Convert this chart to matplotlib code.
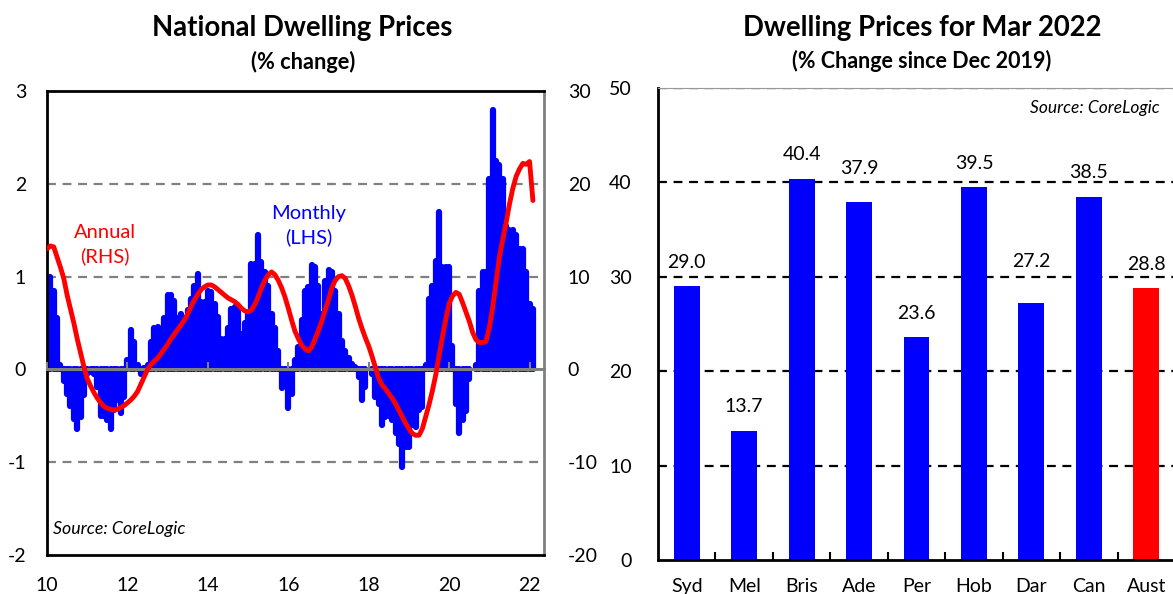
import numpy as np
import matplotlib
matplotlib.use("Agg")
import matplotlib.pyplot as plt
from matplotlib.ticker import FuncFormatter

plt.rcParams['font.family'] = ['Lato', 'DejaVu Sans']
plt.rcParams['axes.unicode_minus'] = False

# monthly % change in national dwelling prices, Jan 2010 onwards (LHS)
monthly = [
    1.0, 1.0, 0.85, 0.55, 0.05, -0.12, -0.26, -0.39, -0.53, -0.64, -0.51, -0.28,
    -0.05, -0.03, -0.05, -0.19, -0.5, -0.5, -0.55, -0.64, -0.44, -0.33, -0.47, -0.3,
    0.1, 0.42, 0.29, 0.05, -0.05, 0.02, 0.05, 0.3, 0.45, 0.46, 0.3, 0.55,
    0.8, 0.8, 0.74, 0.55, 0.6, 0.55, 0.64, 0.76, 0.9, 1.03, 0.73, 0.73,
    0.85, 0.83, 0.7, 0.56, 0.33, 0.33, 0.45, 0.65, 0.67, 0.65, 0.38, 0.5,
    0.6, 1.14, 1.14, 1.45, 1.16, 1.05, 0.9, 0.6, 0.45, 0.2, -0.2, -0.15,
    -0.42, -0.26, 0.1, 0.24, 0.53, 0.85, 0.89, 1.12, 1.1, 0.9, 0.6, 0.95,
    1.07, 1.05, 0.85, 0.6, 0.31, 0.2, 0.12, 0.06, 0.03, -0.08, -0.33, -0.19,
    0.0, -0.05, -0.3, -0.37, -0.6, -0.51, -0.5, -0.55, -0.69, -0.8, -1.05, -0.84,
    -0.84, -0.6, -0.62, -0.44, -0.4, 0.05, 0.76, 0.9, 1.17, 1.7, 1.1, 1.1,
    1.1, 0.25, -0.37, -0.69, -0.55, -0.45, -0.1, 0.0, 0.05, 0.85, 1.05, 1.05,
    2.05, 2.8, 2.25, 2.2, 2.05, 1.55, 1.5, 1.5, 1.45, 1.3, 1.3, 1.05,
    0.7, 0.65,
]

# annual % change (RHS)
annual = [
    13.0, 13.3, 13.2, 12.1, 11.0, 9.8, 8.0, 6.5, 5.0, 3.3, 1.8, 0.3,
    -1.0, -1.8, -2.5, -3.1, -3.6, -4.0, -4.2, -4.3, -4.4, -4.3, -4.1, -3.9,
    -3.6, -3.3, -2.9, -2.4, -1.6, -0.8, 0.0, 0.5, 0.9, 1.2, 1.7, 2.2,
    2.7, 3.3, 3.8, 4.3, 4.8, 5.3, 6.0, 6.8, 7.5, 8.1, 8.6, 8.9,
    9.1, 9.1, 8.9, 8.6, 8.3, 8.0, 7.7, 7.5, 7.3, 7.0, 6.6, 6.3,
    6.2, 6.4, 7.0, 7.8, 8.8, 9.6, 10.2, 10.5, 10.2, 9.6, 8.8, 7.8,
    6.6, 5.3, 4.1, 3.3, 2.6, 2.2, 2.0, 2.4, 3.3, 4.2, 5.2, 6.4,
    7.5, 8.8, 9.6, 10.0, 10.1, 9.8, 9.0, 8.0, 6.8, 5.5, 4.4, 3.4,
    2.5, 1.4, 0.2, -1.0, -1.7, -2.1, -2.6, -3.1, -3.7, -4.4, -5.1, -5.8,
    -6.4, -6.9, -7.1, -7.1, -6.4, -5.1, -3.8, -2.3, -0.6, 1.5, 3.5, 5.4,
    7.1, 7.9, 8.3, 8.1, 7.2, 6.2, 5.2, 4.0, 3.2, 2.9, 2.9, 3.0,
    4.5, 6.7, 9.4, 12.1, 14.0, 15.8, 17.8, 19.5, 20.8, 21.6, 22.2, 22.1,
    22.4, 18.2,
]

cities = ['Syd', 'Mel', 'Bris', 'Ade', 'Per', 'Hob', 'Dar', 'Can', 'Aust']
since_dec19 = [29.0, 13.7, 40.4, 37.9, 23.6, 39.5, 27.2, 38.5, 28.8]
# label offsets above the bars (points), two labels sit higher in the original
label_gap = [11, 11, 11, 18, 11, 11, 24, 11, 11]

dates = 2010 + np.arange(len(monthly)) / 12.0
year_ticks = [2010, 2012, 2014, 2016, 2018, 2020, 2022]

fig = plt.figure(figsize=(11.73, 5.94), dpi=100)

# ---- left panel
ax = fig.add_axes([0.0401, 0.0657, 0.4237, 0.7811])
ax.set_xlim(2010, 2022.36)
ax.set_ylim(-2, 3)
for y in [-1, 1, 2]:
    ax.axhline(y, color='#808080', lw=1.6, ls=(0, (4, 3)), zorder=0)
ax.vlines(dates, 0, monthly, color='#0000ff', lw=4.5, capstyle='round', zorder=2)
ax.set_yticks([-2, -1, 0, 1, 2, 3])
ax.set_xticks(year_ticks)
ax.xaxis.set_major_formatter(FuncFormatter(lambda v, p: '%02d' % (int(v) % 100)))
ax.tick_params(axis='both', length=0, labelsize=14)
ax.tick_params(axis='x', pad=16)
ax.tick_params(axis='y', pad=15)
for s in ['left', 'top', 'bottom']:
    ax.spines[s].set_linewidth(2)
    ax.spines[s].set_color('black')
ax.spines['right'].set_color('#808080')
ax.spines['right'].set_linewidth(2)

zero = ax.secondary_xaxis(0.4)
zero.set_xticks(year_ticks)
zero.set_xticklabels([])
zero.tick_params(direction='in', length=5, width=1.5, color='#808080')
zero.spines['bottom'].set_color('#808080')
zero.spines['bottom'].set_linewidth(2.2)
zero.set_zorder(3)

ax2 = ax.twinx()
ax2.set_ylim(-20, 30)
ax2.set_yticks([-20, -10, 0, 10, 20, 30])
ax2.plot(dates, annual, color='#ff0000', lw=3.5, solid_capstyle='round')
ax2.tick_params(axis='y', length=0, labelsize=14, pad=17)
for s in ax2.spines.values():
    s.set_visible(False)

ax.text(0.117, 0.668, 'Annual\n(RHS)', transform=ax.transAxes, color='#ff0000',
        fontsize=14.5, ha='center', va='center', linespacing=1.42)
ax.text(0.527, 0.709, 'Monthly\n(LHS)', transform=ax.transAxes, color='#0000ff',
        fontsize=14.5, ha='center', va='center', linespacing=1.42)
ax.text(0.012, 0.055, 'Source: CoreLogic', transform=ax.transAxes,
        fontsize=12.8, style='italic', ha='left', va='center')

fig.text(0.258, 0.953, 'National Dwelling Prices', fontsize=19.8, fontweight='bold',
         ha='center', va='center')
fig.text(0.258, 0.896, '(% change)', fontsize=15.7, fontweight='bold',
         ha='center', va='center')

# ---- right panel
bx = fig.add_axes([0.561, 0.0572, 0.4407, 0.7946])
pos = np.arange(len(cities))
colors = ['#0000ff'] * (len(cities) - 1) + ['#ff0000']
bars = bx.bar(pos, since_dec19, width=0.45, color=colors, zorder=2)
bx.set_xlim(-0.5, len(cities) - 0.5)
bx.set_ylim(0, 50)
bx.set_yticks([0, 10, 20, 30, 40, 50])
for y in [10, 20, 30, 40, 50]:
    bx.axhline(y, color='black', lw=1.6, ls=(0, (4, 3)), zorder=1)
bx.set_xticks(pos)
bx.set_xticklabels(cities)
bx.set_xticks(pos[:-1] + 0.5, minor=True)
bx.tick_params(axis='x', which='major', length=0, labelsize=14, pad=13)
bx.tick_params(axis='x', which='minor', direction='in', length=6, width=1.5)
bx.tick_params(axis='y', length=0, labelsize=14, pad=19)
bx.spines['left'].set_linewidth(2)
bx.spines['bottom'].set_linewidth(2)
bx.spines['top'].set_color('#999999')
bx.spines['right'].set_visible(False)
for b, v, g in zip(bars, since_dec19, label_gap):
    bx.annotate('%.1f' % v, (b.get_x() + b.get_width() / 2, v), xytext=(0, g),
                textcoords='offset points', ha='center', va='bottom', fontsize=14)
bx.text(0.971, 0.958, 'Source: CoreLogic', transform=bx.transAxes, fontsize=12.5,
        style='italic', ha='right', va='center')

fig.text(0.786, 0.953, 'Dwelling Prices for Mar 2022', fontsize=19.8,
         fontweight='bold', ha='center', va='center')
fig.text(0.786, 0.898, '(% Change since Dec 2019)', fontsize=15.5,
         fontweight='bold', ha='center', va='center')

fig.savefig('out.png', dpi=100)
